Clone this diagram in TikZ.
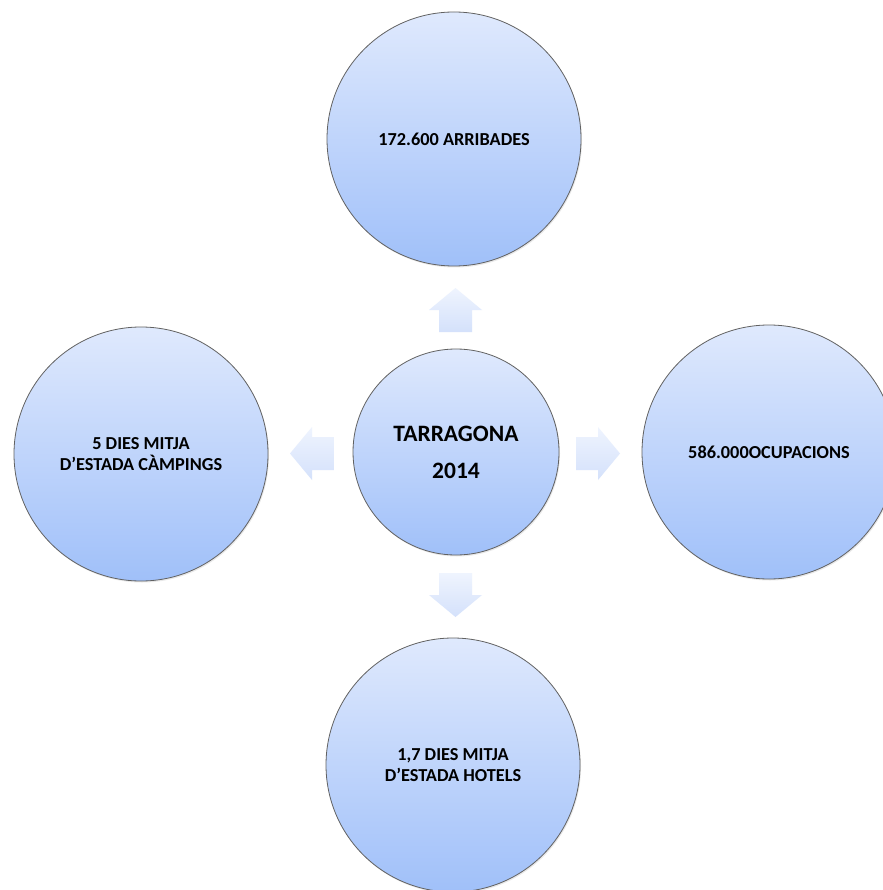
\documentclass[tikz,border=0pt]{standalone}
\usepackage{fontspec}
\setmainfont{Carlito}
\usetikzlibrary{shadows}
\definecolor{ctop}{RGB}{223,233,253}
\definecolor{cbot}{RGB}{160,192,249}
\definecolor{atop}{RGB}{239,244,254}
\definecolor{abot}{RGB}{212,225,251}
\begin{document}
\begin{tikzpicture}[x=1pt,y=-1pt,
  bubble/.style={circle, draw=black!62, line width=0.8pt, top color=ctop, bottom color=cbot,
    minimum size=254pt, inner sep=0pt, align=center, text=black,
    drop shadow={opacity=0.18, shadow xshift=1pt, shadow yshift=-1.5pt},
    font=\bfseries\fontsize{18.3}{20.5}\selectfont},
  hub/.style={bubble, minimum size=206pt, font=\bfseries\fontsize{23.5}{37}\selectfont},
  blockarrow/.style={top color=atop, bottom color=abot, draw=none}]
\useasboundingbox (0,0) rectangle (882,890);
\fill[white] (0,0) rectangle (882,890);
% circles
\node[hub] (c) at (456,452) {TARRAGONA\\2014};
\node[bubble] (t) at (454,139) {172.600 ARRIBADES};
\node[bubble] (l) at (141,454) {5 DIES MITJA\\D’ESTADA CÀMPINGS};
\node[bubble] (r) at (769,452) {586.000OCUPACIONS};
\node[bubble] (b) at (453,765) {1,7 DIES MITJA\\D’ESTADA HOTELS};
% block arrows
\coordinate (ua) at (455.5,310);
\coordinate (da) at (455.5,595);
\coordinate (la) at (312,453.5);
\coordinate (ra) at (598,453.5);
\path[blockarrow] (ua) +(-16.5,22) -- +(-16.5,0) -- +(-26.5,0) -- +(0,-22) -- +(26.5,0) -- +(16.5,0) -- +(16.5,22) -- cycle;
\path[blockarrow] (da) +(-16.5,-22) -- +(-16.5,0) -- +(-26.5,0) -- +(0,22) -- +(26.5,0) -- +(16.5,0) -- +(16.5,-22) -- cycle;
\path[blockarrow] (la) +(22,-16.5) -- +(0,-16.5) -- +(0,-26.5) -- +(-22,0) -- +(0,26.5) -- +(0,16.5) -- +(22,16.5) -- cycle;
\path[blockarrow] (ra) +(-22,-16.5) -- +(0,-16.5) -- +(0,-26.5) -- +(22,0) -- +(0,26.5) -- +(0,16.5) -- +(-22,16.5) -- cycle;
\end{tikzpicture}
\end{document}
